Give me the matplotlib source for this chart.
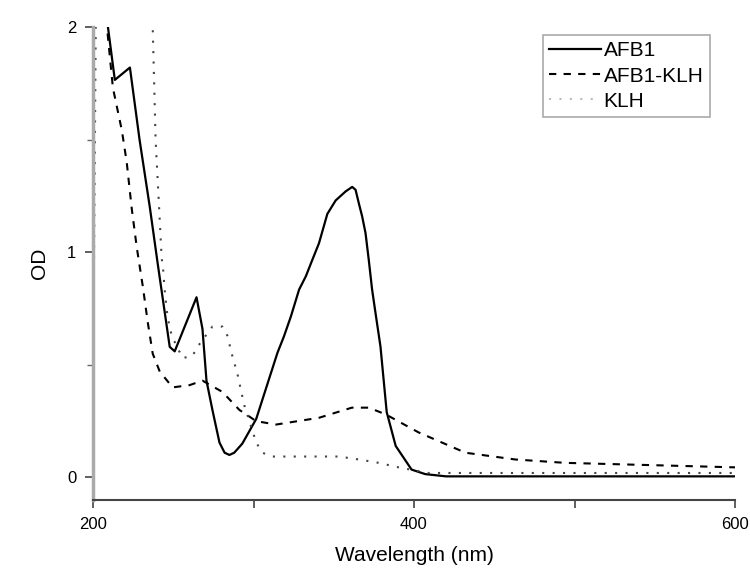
import numpy as np
import matplotlib.pyplot as plt

# absorbance spectra
wl_afb1 = [208, 209.3, 213.6, 223, 229, 235.4, 240.3, 247.8, 250.9, 264.5, 268.2,
           270.7, 274.4, 278.8, 282, 285, 288, 293, 301.7, 308, 314.9, 319, 323.3,
           328.4, 332.6, 336.7, 340.8, 346, 351.2, 357.4, 361.5, 363.6, 365.6,
           367.7, 369.8, 371.8, 373.9, 376, 379.1, 383, 388.6, 398.5, 407, 420, 600]
od_afb1 = [2.1, 2.0, 1.765, 1.82, 1.50, 1.20, 0.95, 0.58, 0.56, 0.80, 0.66,
           0.43, 0.30, 0.155, 0.11, 0.10, 0.11, 0.15, 0.26, 0.40, 0.553, 0.627, 0.715,
           0.834, 0.893, 0.967, 1.04, 1.17, 1.23, 1.27, 1.29, 1.277, 1.218,
           1.159, 1.085, 0.967, 0.834, 0.731, 0.582, 0.29, 0.14, 0.035, 0.015, 0.005, 0.005]

wl_conj = [207.5, 208.7, 212.4, 218, 221, 224.2, 227.3, 231, 234.1, 237.2, 241.6,
           249.6, 260.2, 268.2, 280.6, 291.2, 301.7, 314.1, 340.8, 361.3, 371.8,
           382.4, 402.9, 432, 463, 494, 600]
od_conj = [2.1, 2.0, 1.73, 1.54, 1.40, 1.19, 1.02, 0.85, 0.69, 0.55, 0.47,
           0.40, 0.41, 0.43, 0.38, 0.30, 0.25, 0.235, 0.265, 0.31, 0.31,
           0.28, 0.20, 0.11, 0.08, 0.065, 0.045]

wl_klh = [200, 201, 202, 236.5, 237.2, 239, 241.6, 242.8, 243.4, 244.7, 246.5, 249,
          255.8, 262, 265.1, 274.4, 280.6, 283.7, 286.8, 290, 292.4, 294.3, 301.7,
          305.5, 311.7, 353.2, 365.6, 378, 390.4, 409, 600]
od_klh = [0.42, 1.3, 2.3, 2.3, 2.0, 1.5, 1.14, 0.97, 0.95, 0.83, 0.71, 0.63,
          0.53, 0.54, 0.58, 0.67, 0.67, 0.63, 0.54, 0.46, 0.38, 0.32, 0.155,
          0.11, 0.093, 0.093, 0.08, 0.065, 0.045, 0.02, 0.02]

labels = ["AFB1", "AFB1-KLH", "KLH"]

plt.rcParams['font.family'] = ['Liberation Sans', 'DejaVu Sans']

fig = plt.figure(figsize=(7.5, 5.68), dpi=100)
ax = fig.add_axes([0.124, 0.1197, 0.856, 0.8328])

ax.plot(wl_afb1, od_afb1, color='black', lw=1.6, label=labels[0])
ax.plot(wl_conj, od_conj, color='black', lw=1.5, linestyle=(0, (3.5, 3.5)), label=labels[1])
ax.plot(wl_klh, od_klh, color='#444444', lw=1.5, linestyle=(0, (1, 4)), label=labels[2])

ax.set_xlim(200, 600)
ax.set_ylim(-0.1, 2.0)
ax.set_xticks([200, 400, 600])
ax.set_xticks([300, 500], minor=True)
ax.set_yticks([0, 1, 2])
ax.set_yticks([0.5, 1.5], minor=True)

for s in ['top', 'right']:
    ax.spines[s].set_visible(False)
ax.spines['left'].set_color('#aaaaaa')
ax.spines['left'].set_linewidth(2.5)
ax.spines['bottom'].set_color('#444444')
ax.spines['bottom'].set_linewidth(1.5)

ax.tick_params(axis='both', which='major', labelsize=12, length=6, width=1.2,
               color='#444444', pad=6)
ax.tick_params(axis='x', which='minor', length=6, width=1.2, color='#444444')
ax.tick_params(axis='y', which='minor', length=4, width=1.0, color='#666666')

ax.set_xlabel("Wavelength (nm)", fontsize=15, labelpad=10)
ax.set_ylabel("OD", fontsize=15, labelpad=13)

leg = ax.legend(loc='upper left', bbox_to_anchor=(0.701, 0.983), borderaxespad=0,
                fontsize=15, handlelength=2.5, handletextpad=0.1,
                labelspacing=0.3, borderpad=0.3, fancybox=False, framealpha=1)
leg.get_frame().set_edgecolor('#aaaaaa')
leg.get_frame().set_linewidth(1.2)
leg.get_lines()[2].set_color('#bbbbbb')

fig.savefig("out.png", dpi=100)
